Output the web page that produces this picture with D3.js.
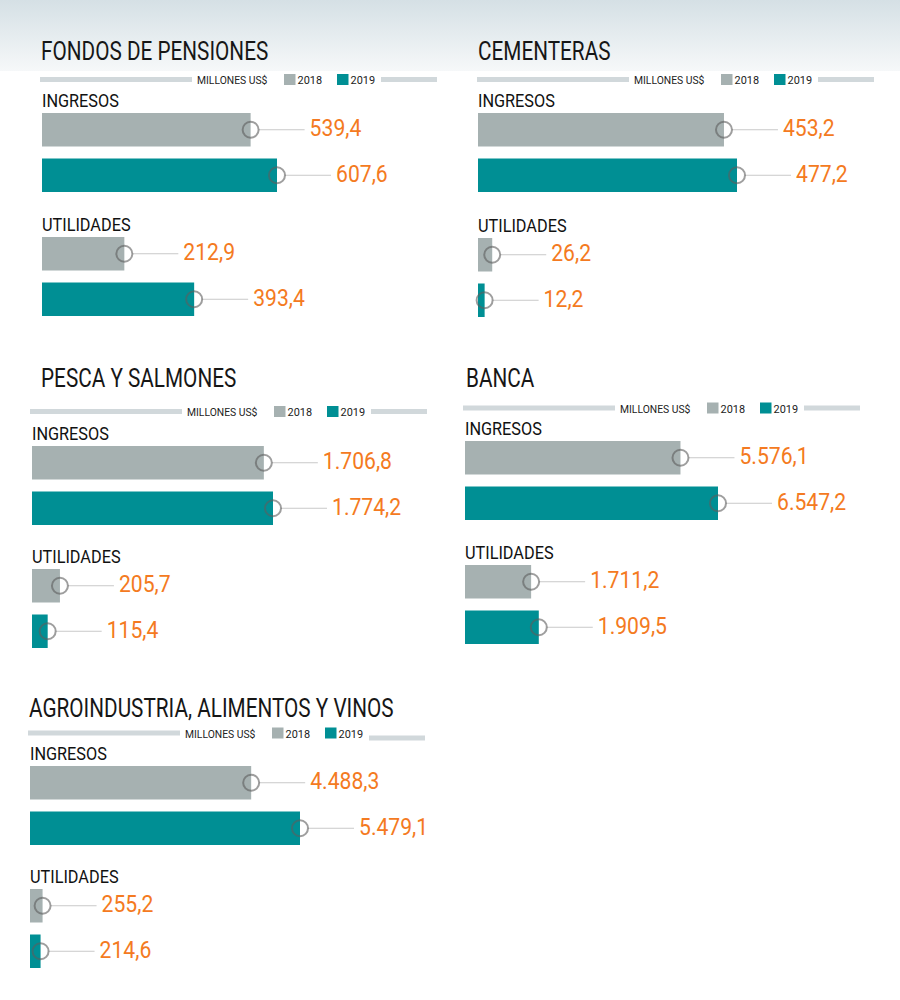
<!DOCTYPE html>
<html>
<head>
<meta charset="utf-8">
<script src="https://cdn.jsdelivr.net/npm/d3@7"></script>
<style>
  body { margin: 0; background: #fff; }
  svg { display: block; font-family: Roboto, "Noto Sans", sans-serif; }
</style>
</head>
<body>
<svg width="900" height="1000"></svg>
<script>
// data (millones US$)
var sectors = ["FONDOS DE PENSIONES", "CEMENTERAS", "PESCA Y SALMONES", "BANCA", "AGROINDUSTRIA, ALIMENTOS Y VINOS"];
var years = ["2018", "2019"];
var metrics = ["INGRESOS", "UTILIDADES"];
var unitLabel = "MILLONES US$";
var ingresos2018 = [539.4, 453.2, 1706.8, 5576.1, 4488.3];
var ingresos2019 = [607.6, 477.2, 1774.2, 6547.2, 5479.1];
var utilidades2018 = [212.9, 26.2, 205.7, 1711.2, 255.2];
var utilidades2019 = [393.4, 12.2, 115.4, 1909.5, 214.6];

// where each panel sits (px)
var layout = [
    { x0: 42, lx: 40, tx: 41, ty: 60, ly: 79.5, ing: 107, util: 231, maxPx: 235, rdy: 0 },
    { x0: 478, lx: 477, tx: 478, ty: 60, ly: 79.5, ing: 107, util: 232, maxPx: 259, rdy: 0 },
    { x0: 32, lx: 30, tx: 41, ty: 387, ly: 411.5, ing: 440, util: 563, maxPx: 241, rdy: 0 },
    { x0: 465, lx: 463, tx: 466, ty: 387, ly: 408, ing: 435, util: 559, maxPx: 253, rdy: 0 },
    { x0: 30, lx: 28, tx: 29, ty: 717, ly: 733, ing: 760, util: 883, maxPx: 270, rdy: 5 }
];

var colors = { "2018": "#a6b1b1", "2019": "#008f94" };
var orange = "#f47a21";
var legendGray = "#d1d8db";

var es = d3.formatLocale({ decimal: ",", thousands: ".", grouping: [3], currency: ["$", ""] });
var fmt = es.format(",.1f");

var svg = d3.select("svg");

// top band
var defs = svg.append("defs");
var grad = defs.append("linearGradient").attr("id", "topfade")
    .attr("x1", 0).attr("y1", 0).attr("x2", 0).attr("y2", 1);
grad.append("stop").attr("offset", "0%").attr("stop-color", "#d5e0e5");
grad.append("stop").attr("offset", "100%").attr("stop-color", "#f6f8f9");
svg.append("rect").attr("x", 0).attr("y", 0).attr("width", 900).attr("height", 71)
    .attr("fill", "url(#topfade)");

// squeeze text a bit, the original face is condensed
function txt(g, x, y, s, k) {
    return g.append("text")
        .attr("transform", "translate(" + x + "," + y + ") scale(" + k + ",1)")
        .text(s);
}

sectors.forEach(function (name, i) {
    var L = layout[i];
    var g = svg.append("g");
    var vals = [ingresos2018[i], ingresos2019[i], utilidades2018[i], utilidades2019[i]];

    var x = d3.scaleLinear()
        .domain([0, d3.max(vals)])
        .range([L.x0, L.x0 + L.maxPx]);

    // title
    txt(g, L.tx, L.ty, name, 0.83)
        .attr("font-size", 25).attr("fill", "#161616");

    // legend strip
    g.append("rect").attr("x", L.lx).attr("y", L.ly - 2.5).attr("width", 152).attr("height", 5)
        .attr("fill", legendGray);
    txt(g, L.lx + 157, L.ly + 4.5, unitLabel, 0.9)
        .attr("font-size", 11.5).attr("fill", "#222");
    years.forEach(function (yr, j) {
        var sx = L.lx + (j === 0 ? 244 : 297);
        g.append("rect").attr("x", sx).attr("y", L.ly - 5.5).attr("width", 11.5).attr("height", 11)
            .attr("fill", colors[yr]);
        txt(g, sx + 13.5, L.ly + 4.5, yr, 0.95)
            .attr("font-size", 11.5).attr("fill", "#222");
    });
    g.append("rect").attr("x", L.lx + 341).attr("y", L.ly - 2.5 + L.rdy).attr("width", 56).attr("height", 5)
        .attr("fill", legendGray);

    metrics.forEach(function (m, mi) {
        var base = mi === 0 ? L.ing : L.util;
        txt(g, L.x0, base, m, 0.88)
            .attr("font-size", 18.5).attr("fill", "#111");

        years.forEach(function (yr, j) {
            var v = vals[mi * 2 + j];
            var by = base + 6 + j * 45.5;
            var bh = 33.5;
            var cy = by + bh / 2;
            var xe = x(v);

            g.append("rect")
                .attr("x", x(0)).attr("y", by)
                .attr("width", xe - x(0)).attr("height", bh)
                .attr("fill", colors[yr]);

            g.append("line")
                .attr("x1", xe + 8).attr("x2", xe + 54)
                .attr("y1", cy).attr("y2", cy)
                .attr("stroke", "#c9c9c9").attr("stroke-width", 1);

            g.append("circle")
                .attr("cx", xe).attr("cy", cy).attr("r", 8)
                .attr("fill", "none")
                .attr("stroke", "#5e5e5e").attr("stroke-opacity", 0.6)
                .attr("stroke-width", 2);

            txt(g, xe + 59, cy + 6.5, fmt(v), 0.92)
                .attr("font-size", 23).attr("fill", orange);
        });
    });
});
</script>
</body>
</html>
